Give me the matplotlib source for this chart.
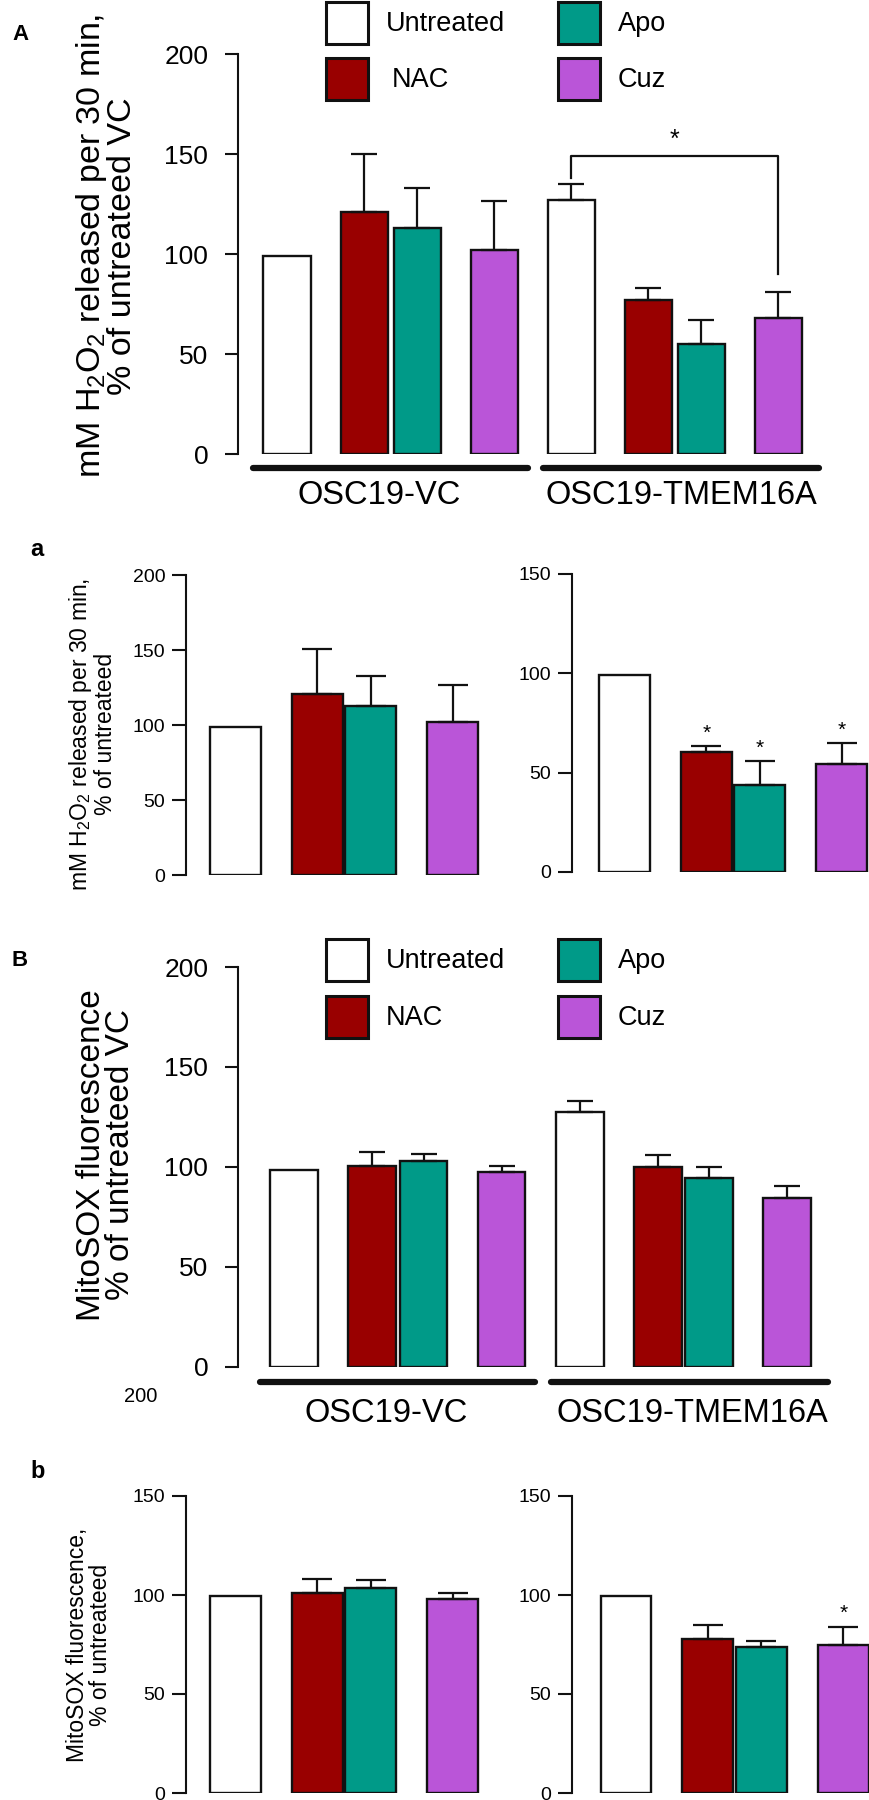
import matplotlib
matplotlib.use("Agg")
import matplotlib.pyplot as plt
import matplotlib.transforms as mtransforms
from matplotlib.patches import Rectangle
import numpy as np

plt.rcParams['font.family'] = ['Liberation Sans', 'DejaVu Sans']
plt.rcParams['mathtext.default'] = 'regular'

# ---------------- data ----------------
treatments = ['Untreated', 'NAC', 'Apo', 'Cuz']
colors = ['#FFFFFF', '#990000', '#009A88', '#BA55D8']
cell_lines = ['OSC19-VC', 'OSC19-TMEM16A']

# A: H2O2 release, % of untreated VC
h2o2_vc = [99, 121, 113, 102]
h2o2_vc_err = [0, 29, 20, 24.5]
h2o2_tm = [127, 77, 55, 68]
h2o2_tm_err = [8, 6, 12, 13]

# a: H2O2 release, % of untreated (each line)
h2o2_vc_rel = [99, 121, 113, 102]
h2o2_vc_rel_err = [0, 29.5, 20, 24.5]
h2o2_tm_rel = [99, 60.5, 44, 54.5]
h2o2_tm_rel_err = [0, 3, 12, 10.5]
h2o2_tm_rel_sig = [False, True, True, True]

# B: MitoSOX, % of untreated VC
mito_vc = [98.5, 100.5, 102.8, 97.3]
mito_vc_err = [0, 6.8, 3.8, 3.2]
mito_tm = [127.6, 100, 94.5, 84.7]
mito_tm_err = [5.6, 5.9, 5.4, 5.6]

# b: MitoSOX, % of untreated (each line)
mito_vc_rel = [99.4, 101.1, 103.3, 97.8]
mito_vc_rel_err = [0, 6.8, 4.1, 3.0]
mito_tm_rel = [99.4, 77.9, 73.7, 74.5]
mito_tm_rel_err = [0, 7.2, 3.2, 9.4]
mito_tm_rel_sig = [False, False, False, True]

# ---------------- layout helpers ----------------
W, H = 870, 1800
fig = plt.figure(figsize=(W / 100, H / 100), dpi=100)
EDGE = '#111111'


def add_axes_px(axis_px, right_px, top_px, bottom_px):
    return fig.add_axes([axis_px / W, 1 - bottom_px / H,
                         (right_px - axis_px) / W, (bottom_px - top_px) / H])


def positions(g, n_groups):
    base = [0, g, g + 1, 2 * g + 1]
    pos = []
    for k in range(n_groups):
        pos += [p + k * (3 * g + 1) for p in base]
    return np.array(pos)


def setup(ax, ymax, axis_px, right_px, first_px, slot_px, fs, ticklen, pad):
    for s in ['top', 'right', 'bottom']:
        ax.spines[s].set_visible(False)
    ax.spines['left'].set_linewidth(1.5)
    ax.spines['left'].set_color(EDGE)
    ax.set_ylim(0, ymax)
    ax.set_yticks(np.arange(0, ymax + 1, 50))
    ax.tick_params(axis='y', length=ticklen, width=1.5, labelsize=fs, pad=pad,
                   color=EDGE)
    ax.set_xticks([])
    ax.set_xlim(-(first_px - axis_px) / slot_px, (right_px - first_px) / slot_px)
    ax.patch.set_alpha(0)


def draw_bars(ax, pos, vals, errs, width, capsize):
    cols = colors * (len(vals) // len(colors))
    ax.bar(pos, vals, width=width, color=cols, edgecolor=EDGE, linewidth=1.7,
           zorder=2)
    errs = np.asarray(errs, dtype=float)
    vals = np.asarray(vals, dtype=float)
    m = errs > 0
    ax.errorbar(pos[m], vals[m], yerr=[np.zeros(m.sum()), errs[m]], fmt='none',
                ecolor=EDGE, elinewidth=1.6, capsize=capsize, capthick=1.6,
                zorder=3)


def set_ylabel(ax, text, fs, center_x_px, center_y_px, axis_px, right_px,
               top_px, bottom_px, ls):
    ax.set_ylabel(text, fontsize=fs, linespacing=ls, multialignment='center')
    ax.yaxis.label.set_va('center')
    ax.yaxis.label.set_ha('center')
    ax.yaxis.set_label_coords((center_x_px - axis_px) / (right_px - axis_px),
                              (bottom_px - center_y_px) / (bottom_px - top_px))


def legend_px(top, row_gap, nac_indent):
    for i, (name, col) in enumerate(zip(treatments, colors)):
        c, r = i // 2, i % 2
        x0 = 326 if c == 0 else 558
        y0 = top + r * row_gap
        fig.add_artist(Rectangle((x0 / W, 1 - (y0 + 42) / H), 42 / W, 42 / H,
                                 transform=fig.transFigure, facecolor=col,
                                 edgecolor=EDGE, linewidth=2.2))
        tx = x0 + 60 + (nac_indent if name == 'NAC' else 0)
        fig.text(tx / W, 1 - (y0 + 22) / H, name, va='center', ha='left',
                 fontsize=19.5)


def group_lines(ax, pos, width, line_y, label_y, label_dx):
    trans = mtransforms.blended_transform_factory(ax.transData, ax.transAxes)
    pads = [(0.19, 0.19), (0.09, 0.33)]
    for k, name in enumerate(cell_lines):
        p = pos[4 * k:4 * k + 4]
        x0 = p[0] - width / 2 - pads[k][0]
        x1 = p[-1] + width / 2 + pads[k][1]
        ax.plot([x0, x1], [line_y, line_y], transform=trans, color=EDGE,
                lw=4.5, solid_capstyle='round', clip_on=False)
        ax.text((x0 + x1) / 2 + label_dx[k], label_y, name, transform=trans,
                ha='center', va='center', fontsize=23.5)


# ================= Panel A =================
A = dict(axis=238, right=840, top=54, bottom=454, first=287, slot=53.0)
axA = add_axes_px(A['axis'], A['right'], A['top'], A['bottom'])
setup(axA, 200, A['axis'], A['right'], A['first'], A['slot'], 19, 9.5, 12)
posA = positions(1.453, 2)
wA = 0.887
draw_bars(axA, posA, h2o2_vc + h2o2_tm, h2o2_vc_err + h2o2_tm_err, wA, 9.4)
# significance bracket TMEM Untreated vs Cuz
xl, xr = posA[4], posA[7]
axA.plot([xl, xl, xr, xr], [138, 149, 149, 90], color=EDGE, lw=1.6,
         clip_on=False)
axA.text((xl + xr) / 2, 157, '*', ha='center', va='center', fontsize=18)
group_lines(axA, posA, wA, -0.035, -0.1025, [-0.22, 0.0])
set_ylabel(axA, 'mM H$_2$O$_2$ released per 30 min,\n% of untreateed VC', 24.5,
           106, 246, A['axis'], A['right'], A['top'], A['bottom'], 0.88)
legend_px(2, 56, 6)
fig.text(12 / W, 1 - 34 / H, 'A', fontsize=16, fontweight='bold',
         ha='left', va='center')

# ================= Panel a =================
posa = positions(1.53, 1)
wa = 0.95
aL = dict(axis=186, right=500, top=575, bottom=875, first=235.5, slot=53.5)
axaL = add_axes_px(aL['axis'], aL['right'], aL['top'], aL['bottom'])
setup(axaL, 200, aL['axis'], aL['right'], aL['first'], aL['slot'], 14, 10, 5)
draw_bars(axaL, posa, h2o2_vc_rel, h2o2_vc_rel_err, wa, 10.5)
set_ylabel(axaL, 'mM H$_2$O$_2$ released per 30 min,\n% of untreateed', 16.5,
           92, 734, aL['axis'], aL['right'], aL['top'], aL['bottom'], 1.0)

aR = dict(axis=572, right=870, top=574, bottom=872, first=624.5, slot=53.5)
axaR = add_axes_px(aR['axis'], aR['right'], aR['top'], aR['bottom'])
setup(axaR, 150, aR['axis'], aR['right'], aR['first'], aR['slot'], 14, 10, 5)
draw_bars(axaR, posa, h2o2_tm_rel, h2o2_tm_rel_err, wa, 10.5)
for p, v, e, s in zip(posa, h2o2_tm_rel, h2o2_tm_rel_err, h2o2_tm_rel_sig):
    if s:
        axaR.text(p, v + e + 6.5, '*', ha='center', va='center', fontsize=15)
fig.text(30 / W, 1 - 550 / H, 'a', fontsize=17, fontweight='bold',
         ha='left', va='center')

# ================= Panel B =================
B = dict(axis=238, right=840, top=967, bottom=1367, first=294, slot=51.5)
axB = add_axes_px(B['axis'], B['right'], B['top'], B['bottom'])
setup(axB, 200, B['axis'], B['right'], B['first'], B['slot'], 19, 9.5, 12)
posB = positions(1.515, 2)
wB = 0.93
draw_bars(axB, posB, mito_vc + mito_tm, mito_vc_err + mito_tm_err, wB, 9.4)
group_lines(axB, posB, wB, -0.0375, -0.1175, [-0.22, 0.05])
set_ylabel(axB, 'MitoSOX fluorescence\n% of untreateed VC', 24,
           106, 1155, B['axis'], B['right'], B['top'], B['bottom'], 0.88)
legend_px(939, 57, 0)
fig.text(12 / W, 1 - 960 / H, 'B', fontsize=16, fontweight='bold',
         ha='left', va='center')
fig.text(141 / W, 1 - 1397 / H, '200', fontsize=14.5, ha='center', va='center')

# ================= Panel b =================
bL = dict(axis=186, right=500, top=1496, bottom=1793, first=235.5, slot=53.5)
axbL = add_axes_px(bL['axis'], bL['right'], bL['top'], bL['bottom'])
setup(axbL, 150, bL['axis'], bL['right'], bL['first'], bL['slot'], 14, 10, 5)
draw_bars(axbL, posa, mito_vc_rel, mito_vc_rel_err, wa, 10.5)
set_ylabel(axbL, 'MitoSOX fluorescence,\n% of untreateed', 16.5,
           89, 1645, bL['axis'], bL['right'], bL['top'], bL['bottom'], 1.0)

bR = dict(axis=572, right=870, top=1496, bottom=1793, first=626.0, slot=53.5)
axbR = add_axes_px(bR['axis'], bR['right'], bR['top'], bR['bottom'])
setup(axbR, 150, bR['axis'], bR['right'], bR['first'], bR['slot'], 14, 10, 5)
draw_bars(axbR, posa, mito_tm_rel, mito_tm_rel_err, wa, 10.5)
for p, v, e, s in zip(posa, mito_tm_rel, mito_tm_rel_err, mito_tm_rel_sig):
    if s:
        axbR.text(p, v + e + 7, '*', ha='center', va='center', fontsize=15)
fig.text(30 / W, 1 - 1472 / H, 'b', fontsize=17, fontweight='bold',
         ha='left', va='center')

fig.savefig('out.png', dpi=100)
